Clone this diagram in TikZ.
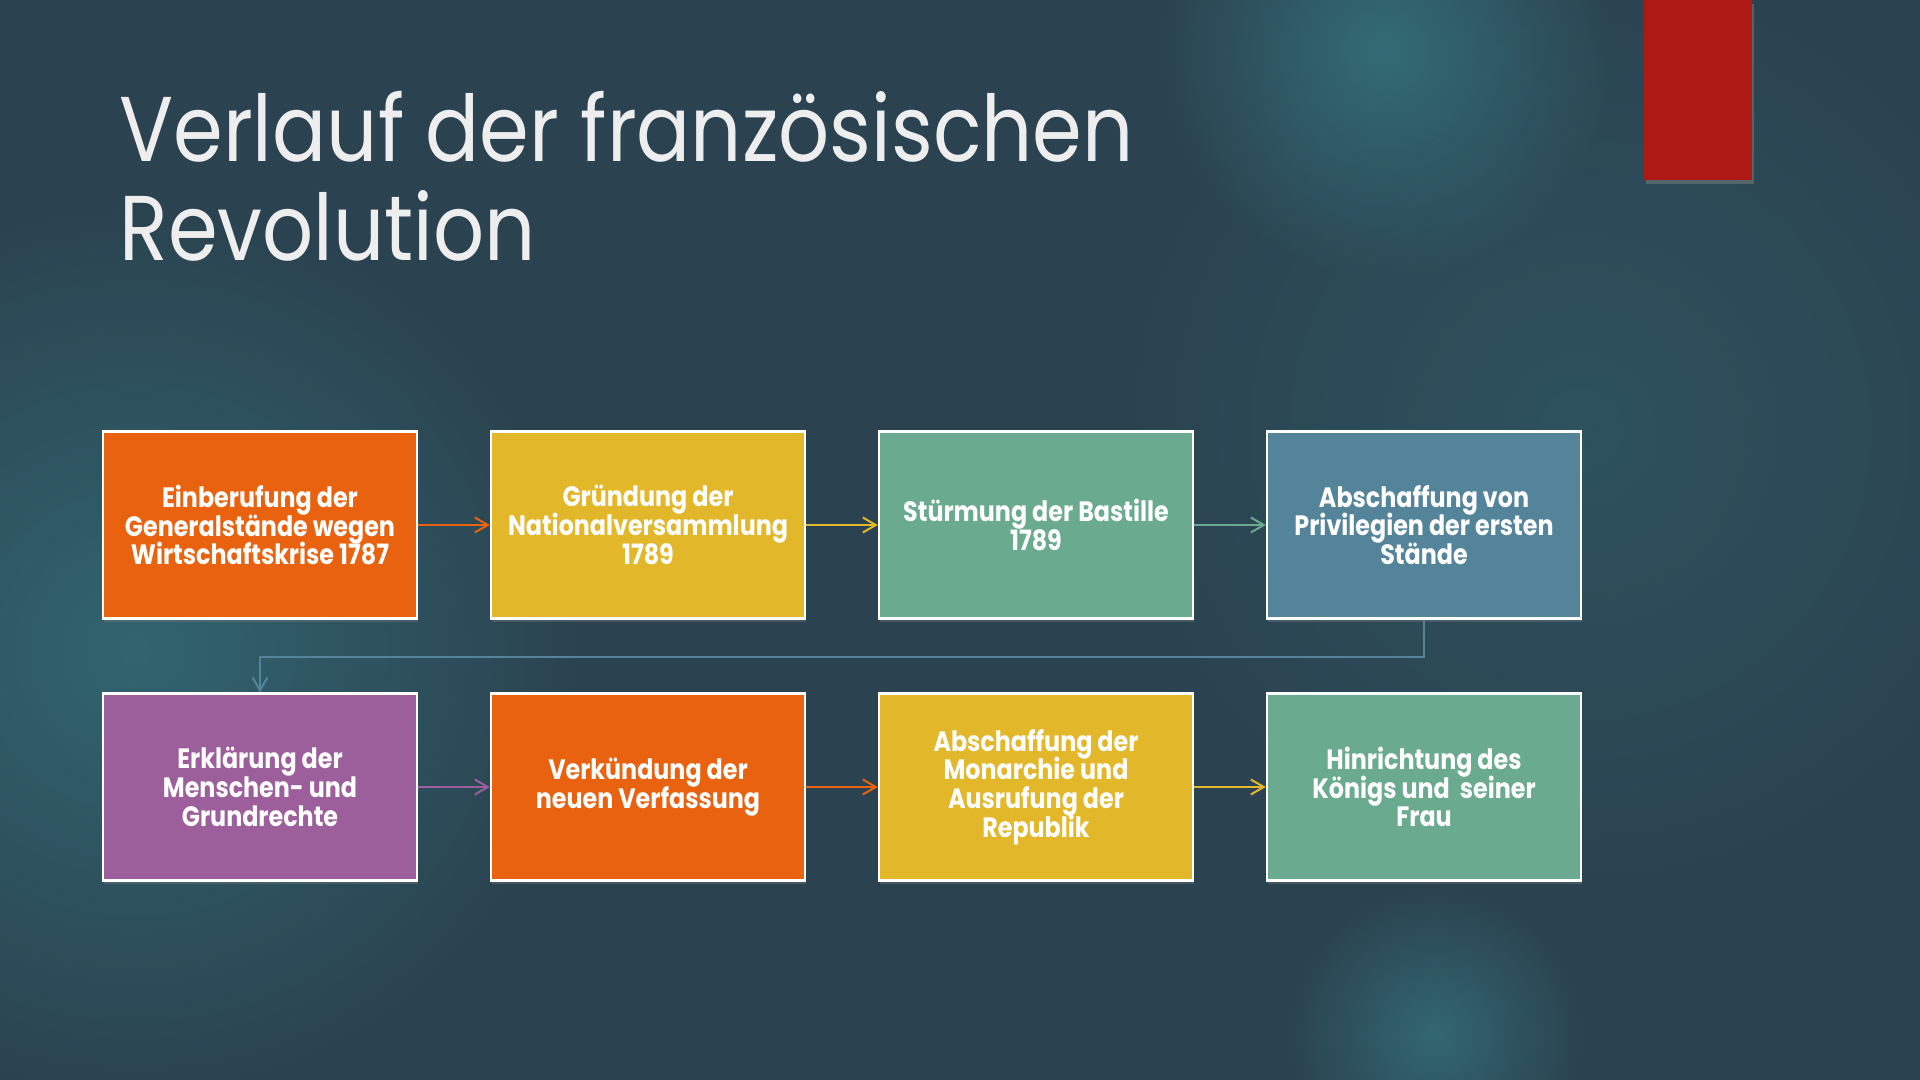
\documentclass[tikz,border=0pt]{standalone}
\usepackage{fontspec}
\setmainfont{Poppins}
\usetikzlibrary{arrows.meta,shadows,fadings}
\definecolor{bg}{HTML}{2B4250}
\definecolor{glow}{HTML}{34717A}
\definecolor{corange}{HTML}{E8620F}
\definecolor{cyellow}{HTML}{E2B72A}
\definecolor{cgreen}{HTML}{6AAB8F}
\definecolor{cblue}{HTML}{54849A}
\definecolor{cpurple}{HTML}{9D5F9B}
\definecolor{cred}{HTML}{AE1815}
\definecolor{ctitle}{HTML}{EEEEEE}
\tikzfading[name=glowfade, inner color=transparent!0, outer color=transparent!100]
\newcommand\bxt[1]{\scalebox{0.85}[1]{\parbox{184pt}{\centering\bfseries\fontsize{14}{14.4}\selectfont\lineskiplimit=-20pt\lineskip=0pt\relax #1}}}
\newcommand\ttl[1]{\scalebox{0.87}[1]{#1}}
\tikzset{
  stepbox/.style={draw=white, line width=1.2pt, minimum width=157pt, minimum height=93.5pt,
    align=center, text=white, inner sep=0pt,
    drop shadow={opacity=0.35, shadow xshift=0.5pt, shadow yshift=-1.5pt}},
  flow/.style={line width=1pt, -{Straight Barb[length=6.5pt,width=7.5pt,line width=1pt]}},
  titletext/.style={anchor=base west, inner sep=0pt, text=ctitle, font=\fontsize{46}{50}\selectfont},
  glowspot/.style={fill=glow, path fading=glowfade}
}
\begin{document}
\begin{tikzpicture}[x=0.5pt,y=-0.5pt]
\fill[bg] (0,0) rectangle (1920,1080);
\useasboundingbox (0,0) rectangle (1920,1080);
% background glows
\fill[glowspot, fill opacity=0.9] (1385,50) circle (230);
\fill[glowspot, fill opacity=0.75] (135,650) circle (460);
\fill[glowspot, fill opacity=0.35] (1580,430) circle (500);
\fill[glowspot, fill opacity=0.8] (1435,1035) circle (150);
% red bar
\fill[cred, drop shadow={opacity=0.5, shadow xshift=1pt, shadow yshift=-2pt}] (1644,0) rectangle (1752,180);
% title
\node[titletext] (t1) at (119,162) {\ttl{Verlauf der französischen}};
\node[titletext] (t2) at (119,261) {\ttl{Revolution}};
% boxes
\node[stepbox, fill=corange] (b1) at (260,525) {\bxt{Einberufung der\\Generalstände wegen\\Wirtschaftskrise 1787}};
\node[stepbox, fill=cyellow] (b2) at (648,525) {\bxt{Gründung der\\Nationalversammlung\\1789}};
\node[stepbox, fill=cgreen]  (b3) at (1036,525) {\bxt{Stürmung der Bastille\\1789}};
\node[stepbox, fill=cblue]   (b4) at (1424,525) {\bxt{Abschaffung von\\Privilegien der ersten\\Stände}};
\node[stepbox, fill=cpurple] (b5) at (260,787) {\bxt{Erklärung der\\Menschen- und\\Grundrechte}};
\node[stepbox, fill=corange] (b6) at (648,787) {\bxt{Verkündung der\\neuen Verfassung}};
\node[stepbox, fill=cyellow] (b7) at (1036,787) {\bxt{Abschaffung der\\Monarchie und\\Ausrufung der\\Republik}};
\node[stepbox, fill=cgreen]  (b8) at (1424,787) {\bxt{Hinrichtung des\\Königs und\ \ seiner\\Frau}};
% connectors
\draw[flow, corange] (b1.east) -- (b2.west);
\draw[flow, cyellow] (b2.east) -- (b3.west);
\draw[flow, cgreen]  (b3.east) -- (b4.west);
\draw[flow, cblue]   (b4.south) -- ++(0,37) -| (b5.north);
\draw[flow, cpurple] (b5.east) -- (b6.west);
\draw[flow, corange] (b6.east) -- (b7.west);
\draw[flow, cyellow] (b7.east) -- (b8.west);
\end{tikzpicture}
\end{document}
